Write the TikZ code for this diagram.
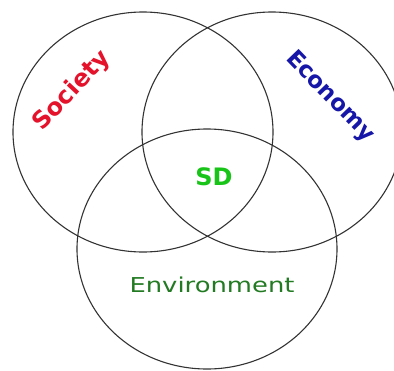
\documentclass[tikz,border=0pt]{standalone}
\usepackage{fontspec}
\setmainfont{DejaVu Sans}
\usetikzlibrary{
  shapes.geometric
}
\definecolor{societyred}{RGB}{228,18,42}
\definecolor{economyblue}{RGB}{22,22,168}
\definecolor{sdgreen}{RGB}{24,196,24}
\definecolor{envgreen}{RGB}{34,122,34}

\begin{document}
\begin{tikzpicture}[x=1pt,y=-1pt]
		\useasboundingbox (0,0) rectangle (394,370);
		\clip (0,0) rectangle (394,370);
		\node[ellipse,draw=black!80,line width=1.1pt,inner sep=0pt,minimum width=260pt,minimum height=240pt] (1) at (143,132) {};
		\node[ellipse,draw=black!80,line width=1.1pt,inner sep=0pt,minimum width=260pt,minimum height=240pt] (2) at (272,132) {};
		\node[ellipse,draw=black!80,line width=1.1pt,inner sep=0pt,minimum width=260pt,minimum height=240pt] (3) at (207,249) {};
		\node[rotate=47,text=societyred,font=\bfseries\fontsize{24}{24}\selectfont] (4) at (72,91) {Society};
		\node[rotate=-46,text=economyblue,font=\bfseries\fontsize{23}{23}\selectfont] (5) at (330,97) {Economy};
		\node[text=sdgreen,font=\bfseries\fontsize{24}{24}\selectfont] (6) at (214,177) {SD};
		\node[text=envgreen,font=\fontsize{20.5}{20.5}\selectfont] (7) at (212,285) {\scalebox{1.26}[1]{Environment}};
\end{tikzpicture}
\end{document}
